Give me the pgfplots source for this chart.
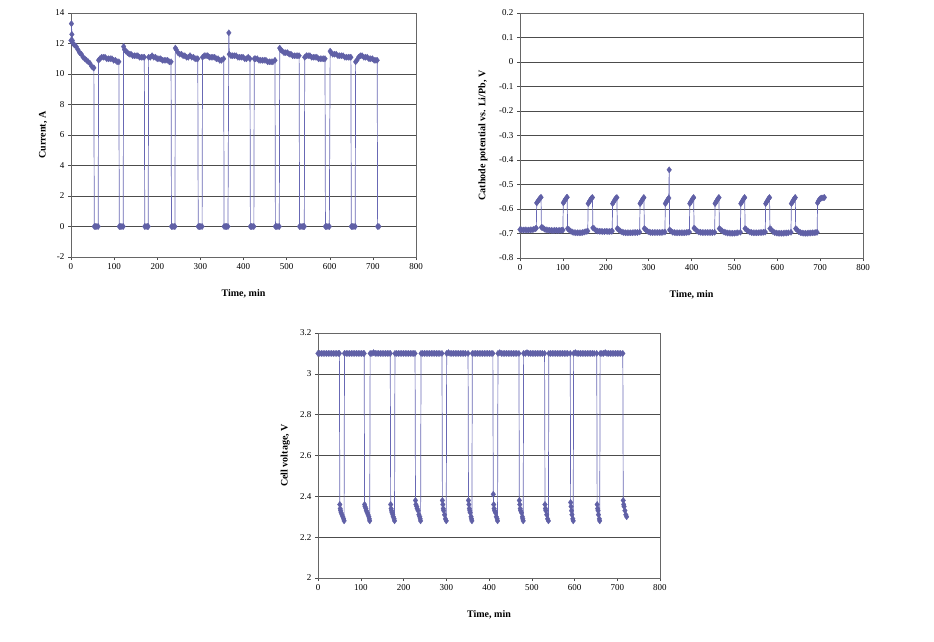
\documentclass[border=0pt]{standalone}
\usepackage{pgfplots}
\pgfplotsset{compat=1.18}
\usepackage{fontspec}
\setmainfont{Liberation Serif}
\definecolor{serblue}{RGB}{96,96,166}
\definecolor{serline}{RGB}{104,104,180}

\pgfplotsset{
  exstyle/.style={
    scale only axis,
    xmin=0, xmax=800, xtick={0,100,...,800},
    tick align=outside, tick pos=left,
    major tick length=3pt,
    ymajorgrids, grid style={black!70, line width=0.5pt},
    axis line style={black!60, line width=0.6pt},
    tick style={black!70, line width=0.5pt},
    tick label style={font=\fontsize{9}{10}\selectfont},
    /pgf/number format/assume math mode=true,
    xlabel={\textbf{Time, min}},
    label style={font=\fontsize{9.5}{11}\selectfont},
    every axis x label/.style={at={(axis description cs:0.5,0)}, anchor=center, yshift=-37pt},
  },
  ser/.style={color=serline, line width=0.7pt, mark=diamond*, mark size=3.1pt,
    mark options={fill=serblue, draw=serblue, line width=0.3pt}},
}

\begin{document}
\begin{tikzpicture}
\useasboundingbox (0,0) rectangle (934pt,-642pt);

% current
\begin{axis}[exstyle,
  at={(71pt,-257pt)}, anchor=south west, width=345pt, height=244pt,
  ymin=-2, ymax=14, ytick={-2,0,2,4,6,8,10,12,14},
  ylabel={\textbf{Current, A}},
  every axis y label/.style={at={(axis description cs:-0.081,0.5)}, rotate=90, anchor=center},
]
\addplot[ser] coordinates {
(0,12.2)(1,13.3)(2,12.6)(3,12.2)(5,12.0)(8,11.9)(12,11.8)(16,11.6)(20,11.4)(24,11.3)(28,11.1)(32,11.0)(36,10.9)(40,10.8)(44,10.7)(48,10.5)(52,10.4)(53,10.4)
(54,0)(57,0)(60,0)(63,0)
(64,10.9)(67,11.0)(71,11.1)(75,11.1)(79,11.1)(83,11.0)(87,11.0)(91,11.0)(95,11.0)(99,10.9)(103,10.9)(107,10.8)(111,10.8)
(112,0)(115,0)(118,0)(121,0)
(122,11.8)(124,11.6)(127,11.5)(131,11.4)(135,11.3)(139,11.3)(143,11.2)(147,11.2)(151,11.2)(155,11.2)(159,11.1)(163,11.1)(167,11.1)(170,11.1)
(171,0)(174,0)(177,0)(179,0)
(180,11.1)(184,11.1)(188,11.2)(192,11.1)(196,11.1)(200,11.0)(204,11.0)(208,11.0)(212,10.9)(216,10.9)(220,10.9)(224,10.9)(228,10.8)(232,10.8)
(233,0)(236,0)(239,0)(241,0)
(242,11.7)(244,11.6)(248,11.4)(252,11.3)(256,11.3)(260,11.2)(264,11.2)(268,11.1)(272,11.1)(276,11.2)(280,11.1)(284,11.1)(288,11.0)(292,11.0)(294,11.0)
(295,0)(298,0)(301,0)(304,0)
(305,11.1)(309,11.2)(313,11.2)(317,11.2)(321,11.1)(325,11.1)(329,11.1)(333,11.1)(337,11.0)(341,11.0)(345,10.9)(349,10.9)(354,11.0)
(355,0)(358,0)(361,0)(364,0)
(366,12.7)(367,11.3)(371,11.2)(375,11.2)(379,11.2)(383,11.2)(387,11.1)(391,11.1)(395,11.1)(399,11.1)(403,11.0)(407,11.0)(411,11.1)(415,11.0)
(416,0)(419,0)(422,0)(424,0)
(425,11.0)(428,11.0)(432,11.0)(436,10.9)(440,10.9)(444,10.9)(448,10.9)(452,10.9)(456,10.8)(460,10.8)(464,10.8)(468,10.8)(473,10.9)
(474,0)(477,0)(480,0)(483,0)
(484,11.7)(486,11.6)(490,11.5)(494,11.4)(498,11.4)(502,11.4)(506,11.3)(510,11.3)(514,11.2)(518,11.2)(522,11.2)(526,11.2)(529,11.2)
(530,0)(533,0)(536,0)(539,0)(541,0)
(542,11.1)(546,11.2)(550,11.2)(554,11.2)(558,11.1)(562,11.1)(566,11.1)(570,11.1)(574,11.0)(578,11.0)(582,11.0)(586,11.0)(589,11.0)
(590,0)(593,0)(596,0)(599,0)
(601,11.5)(603,11.4)(607,11.3)(611,11.3)(615,11.3)(619,11.2)(623,11.2)(627,11.2)(631,11.2)(635,11.1)(639,11.1)(643,11.1)(647,11.1)(649,11.1)
(650,0)(653,0)(656,0)(659,0)
(660,10.8)(663,10.9)(667,11.1)(671,11.2)(675,11.2)(679,11.1)(683,11.1)(687,11.1)(691,11.0)(695,11.0)(699,11.0)(703,10.9)(707,10.9)(710,10.9)
(711,0)(714,0)
};
\end{axis}

% cathode potential
\begin{axis}[exstyle,
  at={(520pt,-258pt)}, anchor=south west, width=343pt, height=245pt,
  ymin=-0.8, ymax=0.2, ytick={-0.8,-0.7,-0.6,-0.5,-0.4,-0.3,-0.2,-0.1,0,0.1,0.2},
  ylabel={\textbf{Cathode potential vs. Li/Pb, V}},
  every axis y label/.style={at={(axis description cs:-0.108,0.5)}, rotate=90, anchor=center},
]
\addplot[ser] coordinates {
(0,-0.684)(4,-0.685)(8,-0.686)(12,-0.685)(16,-0.686)(20,-0.686)(24,-0.685)(28,-0.685)(32,-0.683)(36,-0.680)(38,-0.678)
(39,-0.575)(41,-0.57)(43,-0.565)(45,-0.56)(47,-0.555)(49,-0.552)
(50,-0.675)(53,-0.676)(57,-0.682)(61,-0.685)(65,-0.686)(69,-0.687)(73,-0.687)(77,-0.688)(81,-0.687)(85,-0.687)(89,-0.688)(93,-0.687)(97,-0.687)(100,-0.686)
(101,-0.575)(103,-0.57)(105,-0.563)(107,-0.558)(109,-0.553)(110,-0.552)
(111,-0.680)(114,-0.684)(118,-0.690)(122,-0.694)(126,-0.696)(130,-0.697)(134,-0.697)(138,-0.697)(142,-0.697)(146,-0.696)(150,-0.694)(154,-0.692)(158,-0.690)
(159,-0.578)(161,-0.572)(163,-0.566)(165,-0.56)(167,-0.555)(169,-0.553)
(170,-0.677)(173,-0.680)(177,-0.688)(181,-0.690)(185,-0.691)(189,-0.691)(193,-0.692)(197,-0.692)(201,-0.691)(205,-0.692)(209,-0.692)(213,-0.691)(215,-0.690)
(216,-0.578)(218,-0.572)(220,-0.566)(222,-0.56)(224,-0.555)(226,-0.553)
(227,-0.680)(230,-0.684)(234,-0.690)(238,-0.694)(242,-0.696)(246,-0.697)(250,-0.697)(254,-0.697)(258,-0.697)(262,-0.697)(266,-0.696)(270,-0.696)(274,-0.696)(279,-0.694)
(280,-0.578)(282,-0.572)(284,-0.566)(286,-0.56)(288,-0.555)(289,-0.553)
(290,-0.680)(293,-0.684)(297,-0.690)(301,-0.694)(305,-0.696)(309,-0.696)(313,-0.696)(317,-0.696)(321,-0.696)(325,-0.696)(329,-0.696)(333,-0.695)(338,-0.694)
(339,-0.578)(341,-0.572)(343,-0.566)(345,-0.56)(347,-0.555)(348,-0.44)
(349,-0.685)(352,-0.690)(356,-0.695)(360,-0.696)(364,-0.697)(368,-0.697)(372,-0.697)(376,-0.697)(380,-0.697)(384,-0.697)(388,-0.696)(392,-0.695)(395,-0.694)
(396,-0.578)(398,-0.572)(400,-0.566)(402,-0.56)(404,-0.555)(405,-0.553)
(406,-0.678)(409,-0.682)(413,-0.690)(417,-0.694)(421,-0.695)(425,-0.696)(429,-0.696)(433,-0.696)(437,-0.696)(441,-0.696)(445,-0.696)(449,-0.696)(454,-0.695)
(455,-0.578)(457,-0.572)(459,-0.566)(461,-0.56)(463,-0.555)(464,-0.553)
(465,-0.680)(468,-0.684)(472,-0.690)(476,-0.694)(480,-0.696)(484,-0.698)(488,-0.698)(492,-0.699)(496,-0.699)(500,-0.699)(504,-0.698)(508,-0.697)(514,-0.695)
(515,-0.578)(517,-0.572)(519,-0.566)(521,-0.56)(523,-0.555)(524,-0.553)
(525,-0.680)(528,-0.684)(532,-0.690)(536,-0.694)(540,-0.696)(544,-0.697)(548,-0.697)(552,-0.697)(556,-0.697)(560,-0.696)(564,-0.696)(568,-0.695)(572,-0.694)
(573,-0.578)(575,-0.572)(577,-0.566)(579,-0.56)(581,-0.555)(582,-0.553)
(583,-0.680)(586,-0.684)(590,-0.692)(594,-0.696)(598,-0.698)(602,-0.699)(606,-0.699)(610,-0.699)(614,-0.699)(618,-0.698)(622,-0.698)(626,-0.697)(632,-0.695)
(633,-0.578)(635,-0.572)(637,-0.566)(639,-0.56)(641,-0.555)(642,-0.553)
(643,-0.680)(646,-0.684)(650,-0.692)(654,-0.696)(658,-0.698)(662,-0.699)(666,-0.699)(670,-0.699)(674,-0.698)(678,-0.698)(682,-0.697)(686,-0.697)(690,-0.696)(693,-0.695)
(694,-0.575)(696,-0.568)(698,-0.562)(700,-0.558)(702,-0.556)(704,-0.555)(707,-0.554)(710,-0.553)
};
\end{axis}

% cell voltage
\begin{axis}[exstyle,
  at={(318pt,-578pt)}, anchor=south west, width=342pt, height=245pt,
  ymin=2, ymax=3.2, ytick={2,2.2,2.4,2.6,2.8,3,3.2},
  ylabel={\textbf{Cell voltage, V}},
  every axis y label/.style={at={(axis description cs:-0.096,0.5)}, rotate=90, anchor=center},
]
\addplot[ser] coordinates {
(0,3.1)(4,3.1)(8,3.1)(12,3.1)(16,3.1)(20,3.1)(24,3.1)(28,3.1)(32,3.1)(36,3.1)(40,3.1)(44,3.1)(48,3.1)(50,3.1)
(51,2.36)(52,2.34)(53,2.33)(54,2.32)(56,2.31)(58,2.30)(60,2.29)(61,2.28)
(62,3.1)(66,3.1)(70,3.1)(74,3.1)(78,3.1)(82,3.1)(86,3.1)(90,3.1)(94,3.1)(98,3.1)(102,3.1)(106,3.1)(108,3.1)
(109,2.36)(110,2.35)(112,2.34)(113,2.33)(115,2.32)(117,2.31)(119,2.30)(120,2.29)(121,2.28)
(122,3.1)(126,3.1)(130,3.104)(134,3.1)(138,3.1)(142,3.1)(146,3.1)(150,3.1)(154,3.1)(158,3.1)(162,3.1)(166,3.1)(169,3.1)
(170,2.36)(171,2.34)(172,2.33)(173,2.32)(175,2.31)(176,2.30)(178,2.29)(179,2.28)
(180,3.1)(184,3.1)(188,3.1)(192,3.1)(196,3.1)(200,3.1)(204,3.1)(208,3.1)(212,3.1)(216,3.1)(220,3.1)(224,3.1)(227,3.1)
(228,2.38)(229,2.36)(231,2.35)(232,2.34)(234,2.33)(236,2.31)(238,2.30)(239,2.29)(240,2.28)
(241,3.1)(245,3.1)(249,3.1)(253,3.1)(257,3.1)(261,3.1)(265,3.1)(269,3.1)(273,3.1)(277,3.1)(281,3.1)(285,3.1)(290,3.1)
(291,2.38)(292,2.36)(293,2.34)(294,2.33)(296,2.31)(298,2.29)(300,2.28)
(301,3.1)(305,3.104)(309,3.1)(313,3.1)(317,3.1)(321,3.1)(325,3.1)(329,3.1)(333,3.1)(337,3.1)(341,3.1)(345,3.1)(351,3.1)
(352,2.38)(353,2.36)(354,2.34)(355,2.33)(356,2.32)(358,2.30)(359,2.29)(360,2.28)
(361,3.1)(365,3.1)(369,3.1)(373,3.1)(377,3.1)(381,3.1)(385,3.1)(389,3.1)(393,3.1)(397,3.1)(401,3.1)(405,3.1)(409,3.1)
(410,2.41)(411,2.36)(412,2.34)(413,2.33)(415,2.32)(417,2.30)(419,2.29)(420,2.28)
(421,3.1)(425,3.104)(429,3.1)(433,3.1)(437,3.1)(441,3.1)(445,3.1)(449,3.1)(453,3.1)(457,3.1)(461,3.1)(465,3.1)(470,3.1)
(471,2.38)(472,2.36)(473,2.34)(474,2.33)(476,2.32)(478,2.30)(479,2.29)(480,2.28)
(481,3.1)(485,3.1)(489,3.104)(493,3.1)(497,3.1)(501,3.1)(505,3.1)(509,3.1)(513,3.1)(517,3.1)(521,3.1)(525,3.1)(530,3.1)
(531,2.36)(532,2.34)(533,2.33)(535,2.31)(537,2.29)(539,2.28)
(540,3.1)(544,3.1)(548,3.1)(552,3.1)(556,3.1)(560,3.1)(564,3.1)(568,3.1)(572,3.1)(576,3.1)(580,3.1)(584,3.1)(590,3.1)
(591,2.37)(592,2.35)(593,2.33)(594,2.31)(596,2.29)(597,2.28)
(598,3.1)(602,3.104)(606,3.1)(610,3.1)(614,3.1)(618,3.1)(622,3.1)(626,3.1)(630,3.1)(634,3.1)(638,3.1)(642,3.1)(646,3.1)(652,3.1)
(653,2.36)(654,2.34)(655,2.33)(656,2.31)(658,2.29)(659,2.28)
(660,3.1)(664,3.1)(668,3.1)(672,3.104)(676,3.1)(680,3.1)(684,3.1)(688,3.1)(692,3.1)(696,3.1)(700,3.1)(704,3.1)(708,3.1)(713,3.1)
(714,2.38)(715,2.36)(716,2.35)(718,2.33)(720,2.31)(722,2.30)
};
\end{axis}
\end{tikzpicture}
\end{document}
